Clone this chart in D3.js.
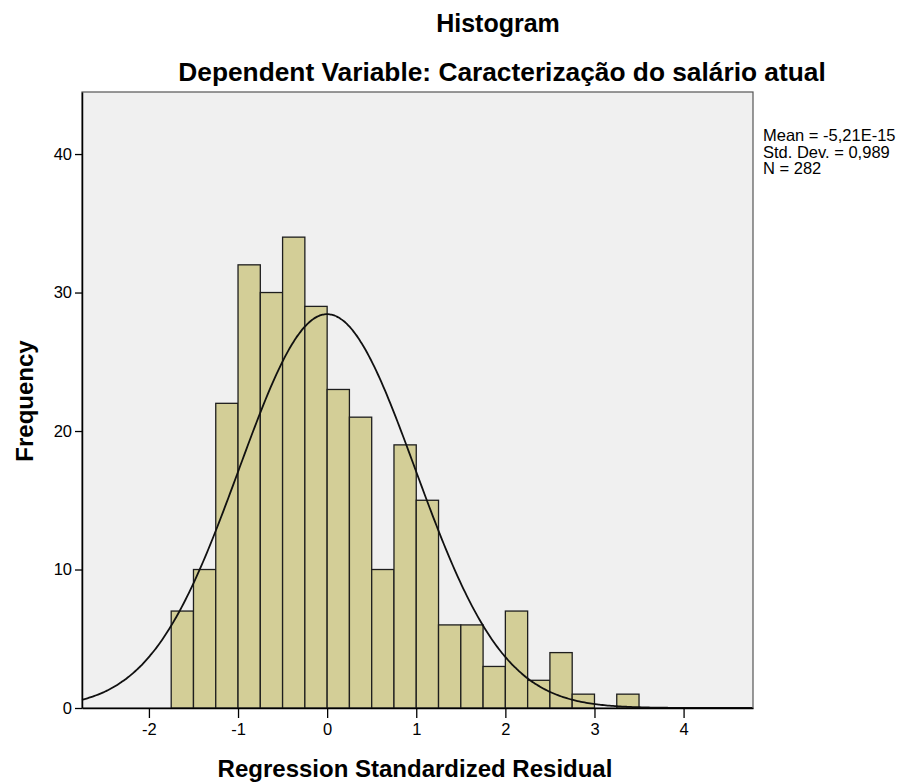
<!DOCTYPE html>
<html>
<head>
<meta charset="utf-8">
<script src="https://cdn.jsdelivr.net/npm/d3@7"></script>
<style>
  html, body { margin: 0; padding: 0; background: #ffffff; }
  svg { display: block; }
  text { font-family: "Liberation Sans", Arial, sans-serif; fill: #000; }
</style>
</head>
<body>
<svg id="chart" width="906" height="782"></svg>
<script>
// ---- data ----
const binLower = [-1.75, -1.5, -1.25, -1.0, -0.75, -0.5, -0.25, 0.0, 0.25, 0.5, 0.75, 1.0, 1.25, 1.5, 1.75, 2.0, 2.25, 2.5, 2.75, 3.0, 3.25];
const binCounts = [7, 10, 22, 32, 30, 34, 29, 23, 21, 10, 19, 15, 6, 6, 3, 7, 2, 4, 1, 0, 1];
const binWidth = 0.25;
const xTicks = [-2, -1, 0, 1, 2, 3, 4];
const yTicks = [0, 10, 20, 30, 40];
const statLines = ["Mean = -5,21E-15", "Std. Dev. = 0,989", "N = 282"];
const statMean = -5.21e-15;
const statSD = 0.989;
const statN = 282;
const titleText = "Histogram";
const subtitleText = "Dependent Variable: Caracterização do salário atual";
const xLabel = "Regression Standardized Residual";
const yLabel = "Frequency";

// ---- layout ----
const svg = d3.select("#chart");
const plot = { left: 82, right: 753, top: 92, bottom: 708 };

const x = d3.scaleLinear().domain([-2.751, 4.779]).range([plot.left, plot.right]);
const y = d3.scaleLinear().domain([0, 44.48]).range([plot.bottom, plot.top]);

// plot background
svg.append("rect")
  .attr("x", plot.left).attr("y", plot.top)
  .attr("width", plot.right - plot.left).attr("height", plot.bottom - plot.top)
  .attr("fill", "#f0f0f0")
  .attr("stroke", "#555").attr("stroke-width", 1.2);

// bars
svg.append("g").selectAll("rect")
  .data(binLower.map((b, i) => ({ lo: b, hi: b + binWidth, n: binCounts[i] })).filter(d => d.n > 0))
  .join("rect")
  .attr("x", d => x(d.lo))
  .attr("y", d => y(d.n))
  .attr("width", d => x(d.hi) - x(d.lo))
  .attr("height", d => y(0) - y(d.n))
  .attr("fill", "#d3ce97")
  .attr("stroke", "#1e1e1e")
  .attr("stroke-width", 1.3);

// normal curve
const dens = v => statN * binWidth / (statSD * Math.sqrt(2 * Math.PI)) *
  Math.exp(-0.5 * Math.pow((v - statMean) / statSD, 2));
const xs = d3.range(x.domain()[0], x.domain()[1] + 0.001, 0.02);
svg.append("path")
  .datum(xs)
  .attr("fill", "none")
  .attr("stroke", "#111")
  .attr("stroke-width", 1.8)
  .attr("d", d3.line().x(v => x(v)).y(v => y(dens(v))).curve(d3.curveBasis));

// axes
const yAxis = d3.axisLeft(y).tickValues(yTicks).tickSizeInner(7).tickSizeOuter(0).tickPadding(3).tickFormat(d3.format("d"));
const gy = svg.append("g").attr("transform", `translate(${plot.left},0)`).call(yAxis);
gy.select(".domain").attr("stroke", "#000").attr("stroke-width", 1.5);
gy.selectAll(".tick line").attr("stroke", "#000").attr("stroke-width", 1.3);
gy.selectAll(".tick text").attr("font-size", 16.5).attr("fill", "#1a1a1a")
  .attr("font-family", "Liberation Sans, Arial, sans-serif");

const xAxis = d3.axisBottom(x).tickValues(xTicks).tickSizeInner(10).tickSizeOuter(0).tickPadding(5).tickFormat(d3.format("d"));
const gx = svg.append("g").attr("transform", `translate(0,${plot.bottom})`).call(xAxis);
gx.select(".domain").attr("stroke", "#000").attr("stroke-width", 1.5);
gx.selectAll(".tick line").attr("stroke", "#000").attr("stroke-width", 1.3);
gx.selectAll(".tick text").attr("font-size", 16.5).attr("fill", "#1a1a1a")
  .attr("font-family", "Liberation Sans, Arial, sans-serif")
  .text(d => String(d));

// titles
svg.append("text").attr("x", 498).attr("y", 32).attr("text-anchor", "middle")
  .attr("font-size", 25).attr("font-weight", "bold").text(titleText);
svg.append("text").attr("x", 502).attr("y", 81).attr("text-anchor", "middle")
  .attr("font-size", 26.3).attr("font-weight", "bold").text(subtitleText);

// axis labels
svg.append("text").attr("x", 415).attr("y", 777).attr("text-anchor", "middle")
  .attr("font-size", 24).attr("font-weight", "bold").text(xLabel);
svg.append("text")
  .attr("transform", "translate(33,401) rotate(-90)")
  .attr("text-anchor", "middle")
  .attr("font-size", 24).attr("font-weight", "bold").text(yLabel);

// stats legend
svg.append("g").selectAll("text")
  .data(statLines)
  .join("text")
  .attr("x", 763)
  .attr("y", (d, i) => 141 + i * 16.5)
  .attr("font-size", 16.5)
  .attr("fill", "#111")
  .text(d => d);
</script>
</body>
</html>
